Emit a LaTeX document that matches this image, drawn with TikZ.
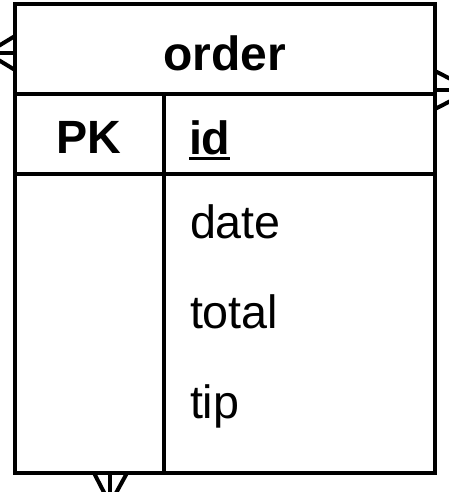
\documentclass[tikz,border=0pt]{standalone}
\usepackage{fontspec}
\setmainfont{Liberation Sans}
\usetikzlibrary{positioning,calc}

% thick underline for key attributes
\newcommand{\keyattr}[1]{\setbox0\hbox{#1}\rlap{\rule[-4.5pt]{\wd0}{2.3pt}}#1}

\begin{document}
\begin{tikzpicture}[x=0.75pt, y=-0.75pt, line width=3pt,
    tbl/.style={draw, rectangle, inner sep=0pt, minimum width=315pt, minimum height=351.75pt},
    title/.style={font=\fontsize{36}{40}\selectfont\bfseries, anchor=base},
    keytxt/.style={font=\fontsize{35}{40}\selectfont\bfseries, anchor=base},
    attr/.style={font=\fontsize{35}{40}\selectfont, anchor=base west, inner sep=0pt},
]
    \useasboundingbox (0,0) rectangle (449,492);
    \clip (0,0) rectangle (449,492);

    % entity box
    \node[tbl] (entity) at (225,238.5) {};
    \coordinate (hdr) at (0,94);
    \coordinate (keyrow) at (0,174);
    \coordinate (col) at (164,0);
    \draw (entity.west |- hdr) -- (entity.east |- hdr);
    \draw (entity.west |- keyrow) -- (entity.east |- keyrow);
    \draw (col |- hdr) -- (col |- entity.south);

    % texts
    \node[title] (name) at (225,70) {order};
    \node[keytxt] (pk) at (89,153) {PK};
    \node[attr, font=\fontsize{35}{40}\selectfont\bfseries] (id) at (187,154) {\keyattr{id}};
    \node[attr] (date) at (188,238) {date};
    \node[attr] (total) at (188,328) {total};
    \node[attr] (tip) at (188,418) {tip};

    % crow's feet (many side)
    \coordinate (lhub) at (-13,53);
    \coordinate (lend) at (-60,53);
    \draw (entity.west |- lhub) -- (lend);
    \draw (lhub) -- (15,36) (lhub) -- (15,70);

    \coordinate (rhub) at (472,90);
    \coordinate (rend) at (520,90);
    \draw (entity.east |- rhub) -- (rend);
    \draw (rhub) -- (435,71) (rhub) -- (435,109);

    \coordinate (bhub) at (110,504);
    \coordinate (bend) at (110,540);
    \draw (entity.south -| bhub) -- (bend);
    \draw (bhub) -- (94,473) (bhub) -- (127,473);
\end{tikzpicture}
\end{document}
